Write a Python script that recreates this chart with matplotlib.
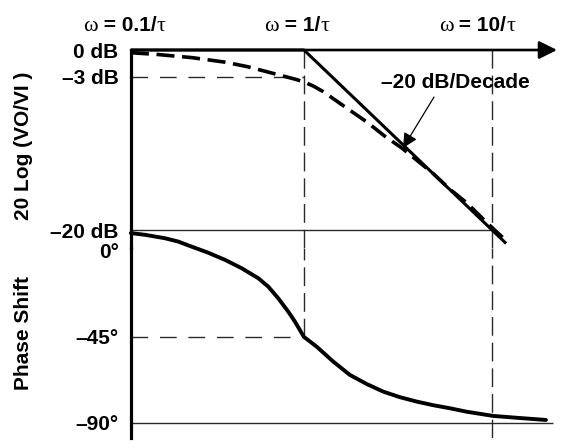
import numpy as np
import matplotlib
matplotlib.use("Agg")
import matplotlib.pyplot as plt
from matplotlib.offsetbox import TextArea, HPacker, AnnotationBbox

plt.rcParams['lines.scale_dashes'] = False

# ---------------- data ----------------
omega_marks = [0.1, 1.0, 10.0]
omega_texts = ['0.1', '1', '10']

gain_ticks = [0, -3, -20]
gain_tick_labels = ['0 dB', '\u20133 dB', '\u201320 dB']
phase_ticks = [0, -45, -90]
phase_tick_labels = ['0\u00b0', '\u201345\u00b0', '\u201390\u00b0']

# straight-line (asymptotic) gain
omega_asym = [0.12, 1.0, 11.9]
gain_asym = [0.0, 0.0, -21.5]

# actual gain (dashed)
omega_gain = [0.12, 0.167, 0.254, 0.38, 0.5, 0.631, 0.794, 0.9, 1.0, 1.12, 1.26, 1.43,
              1.7, 2.16, 2.7, 3.32, 4.85, 6.0, 7.36, 9.4, 11.5]
gain_db = [-0.3, -0.5, -0.85, -1.35, -1.85, -2.4, -2.95, -3.25, -3.55, -4.0, -4.6, -5.4,
           -6.5, -8.0, -9.6, -10.9, -13.7, -15.5, -17.0, -19.2, -20.9]

# phase shift
omega_phase = [0.12, 0.1426, 0.1823, 0.2138, 0.2529, 0.3083, 0.3802, 0.4667, 0.5715,
               0.6457, 0.730, 0.8252, 0.8956, 1.0, 1.169, 1.432, 1.757, 2.156, 2.642,
               3.24, 3.977, 4.874, 5.98, 7.33, 10.16, 14.09, 19.37]
phase_deg = [9.3, 8.4, 6.6, 4.9, 2.2, -0.9, -4.7, -9.1, -14.3, -18.7, -24.8, -31.8, -37.0,
             -45.0, -50.1, -57.9, -64.9, -69.6, -73.6, -76.5, -78.8, -80.7, -82.3, -84.1,
             -86.3, -87.4, -88.4]

slope_text = '\u201320 dB/Decade'
slope_point = (3.36, -10.9)
slope_text_pos = (6.36, -3.6)

# ---------------- layout ----------------
W, H = 561, 448
fig = plt.figure(figsize=(W / 100, H / 100), dpi=100)

xlo, xhi = 10 ** -0.920, 10 ** 1.346
ax_g = fig.add_axes([131 / W, (H - 248) / H, 426 / W, 198 / H])
ax_p = fig.add_axes([131 / W, (H - 438.3) / H, 426 / W, 190.3 / H])

SANS = 'Liberation Sans'
SERIF = 'Liberation Serif'
FS = 15
THIN = dict(color='#2a2a2a', lw=1.0)
HDASH = (0, (12, 8.5))
VDASH = (0, (13.5, 5))

for ax in (ax_g, ax_p):
    ax.set_xscale('log')
    ax.set_xlim(xlo, xhi)
    ax.patch.set_alpha(0)
    for s in ('top', 'right', 'bottom'):
        ax.spines[s].set_visible(False)
    ax.spines['left'].set_linewidth(2.3)
    ax.set_xticks([])
    ax.xaxis.set_minor_locator(matplotlib.ticker.NullLocator())
    ax.tick_params(axis='y', length=0, pad=9)

ax_g.set_ylim(-22, 0)
ax_p.set_ylim(-98, 1.5)

ax_g.set_yticks(gain_ticks)
ax_g.set_yticklabels(gain_tick_labels, fontfamily=SANS, fontweight='bold', fontsize=FS)
ax_p.set_yticks(phase_ticks)
ax_p.set_yticklabels(phase_tick_labels, fontfamily=SANS, fontweight='bold', fontsize=FS)

# top axis with arrow
ax_g.annotate('', xy=(1, 1), xytext=(0, 1), xycoords='axes fraction',
              arrowprops=dict(arrowstyle='-|>', lw=1.9, color='k', mutation_scale=27,
                              shrinkA=0, shrinkB=0))

# reference lines (gain)
ax_g.hlines(gain_ticks[2], xlo, omega_marks[2], **THIN)
ax_g.hlines(gain_ticks[1], xlo, omega_marks[1], linestyles=[HDASH], **THIN)
ax_g.vlines(omega_marks[1], -22, 0, linestyles=[VDASH], **THIN)
ax_g.vlines(omega_marks[2], -22, 0, linestyles=[VDASH], **THIN)

# reference lines (phase)
ax_p.hlines(phase_ticks[1], xlo, omega_marks[1], linestyles=[HDASH], **THIN)
ax_p.hlines(phase_ticks[2], xlo, 10 ** 1.324, **THIN)
ax_p.vlines(omega_marks[1], phase_ticks[1], 1.5, linestyles=[VDASH], **THIN)
ax_p.vlines(omega_marks[2], -98, 1.5, linestyles=[VDASH], **THIN)

# curves
ax_g.plot(omega_asym, gain_asym, color='k', lw=2.2, clip_on=False, solid_capstyle='butt')
ax_g.plot(omega_gain, gain_db, color='k', lw=2.6, clip_on=False, linestyle=(0, (13, 5.5)),
          dash_capstyle='butt', dash_joinstyle='round')
ax_p.plot(omega_phase, phase_deg, color='k', lw=2.8, clip_on=False,
          solid_joinstyle='round', solid_capstyle='round')

# slope annotation
ax_g.annotate(slope_text, xy=slope_point, xytext=slope_text_pos, textcoords='data',
              ha='center', va='center', fontsize=FS, fontweight='bold', fontfamily=SANS,
              arrowprops=dict(arrowstyle='-|>,head_length=0.45,head_width=0.22', lw=0.9,
                              color='k', relpos=(0.38, 0), shrinkA=2, shrinkB=0,
                              mutation_scale=20))

# omega labels
offsets = [8, -7, -15]
for w, t, dx in zip(omega_marks, omega_texts, offsets):
    parts = [TextArea('\u03c9', textprops=dict(family=SERIF, size=16)),
             TextArea(' = ' + t + '/', textprops=dict(family=SANS, weight='bold', size=15)),
             TextArea('\u03c4', textprops=dict(family=SERIF, size=16))]
    box = HPacker(children=parts, sep=0, pad=0, align='baseline')
    ab = AnnotationBbox(box, (w, 1), xycoords=('data', 'axes fraction'),
                        xybox=(dx * 0.72, 17.5), boxcoords='offset points',
                        frameon=False, box_alignment=(0.5, 0.5), annotation_clip=False)
    ax_g.add_artist(ab)

# axis titles
fig.text(24 / W, 1 - 146 / H, '20 Log (VO/VI )', rotation=90, ha='center', va='center',
         fontsize=FS, fontweight='bold', fontfamily=SANS)
fig.text(24 / W, 1 - 333 / H, 'Phase Shift', rotation=90, ha='center', va='center',
         fontsize=FS, fontweight='bold', fontfamily=SANS)

fig.savefig('out.png', dpi=100)
